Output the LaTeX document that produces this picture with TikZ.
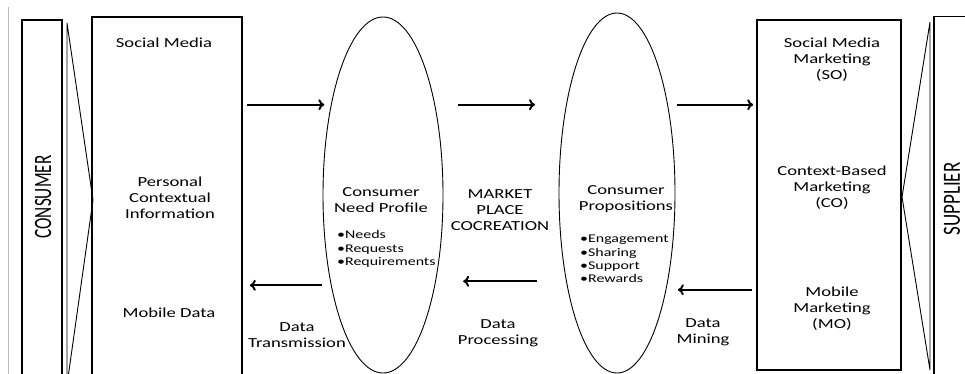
\documentclass[tikz,border=0pt]{standalone}
\usepackage{fontspec}
\setmainfont{Carlito}[FakeStretch=1.35]
\newfontfamily\sidefont{Carlito}
\usepackage{tikz}
\usetikzlibrary{arrows.meta, shapes.geometric}

\tikzset{
    box/.style={draw, rectangle, line width=1.6pt, inner sep=0pt},
    oval/.style={draw, ellipse, line width=0.9pt, inner sep=0pt},
    fan/.style={line width=0.9pt},
    lbl/.style={align=center, inner sep=0pt, font=\fontsize{13.8}{16}\selectfont},
    blist/.style={align=left, anchor=west, inner sep=0pt, font=\fontsize{11.8}{13.3}\selectfont},
    sidelbl/.style={rotate=90, inner sep=0pt},
    arr/.style={-{To[length=6pt, width=11pt]}, line width=1.9pt}
}

\begin{document}
\begin{tikzpicture}[x=1pt, y=-1pt]
        \clip (0,0) rectangle (965,373);
        \fill[white] (0,0) rectangle (965,373);

        % thin edge on the far left
        \draw[gray!55, line width=1.2pt] (8.5,7) -- (8.5,380);

        % the two sides
        \draw (42,200) node[box, minimum width=40pt, minimum height=360pt] (consumer) {};
        \draw (955,204) node[box, minimum width=42pt, minimum height=375pt] (supplier) {};
        \draw (43,197) node[sidelbl] (consumerlbl) {\sidefont\fontsize{17.2}{18}\selectfont\scalebox{1}[1.45]{CONSUMER}};
        \draw (952,199) node[sidelbl] (supplierlbl) {\sidefont\fontsize{19}{20}\selectfont\scalebox{1}[1.3]{SUPPLIER}};

        % funnels next to them
        \draw[fan] (67,23) -- (93,200) -- (67,385) -- cycle;
        \draw[fan] (930,22) -- (902,197) -- (930,370) -- cycle;

        % boxes and ovals
        \draw (167,203.5) node[box, minimum width=150pt, minimum height=373pt] (srcbox) {};
        \draw (829,195) node[box, minimum width=144pt, minimum height=350pt] (mktbox) {};
        \draw (383,195) node[oval, minimum width=120pt, minimum height=356pt] (need) {};
        \draw (617,193) node[oval, minimum width=116pt, minimum height=360pt] (props) {};

        % what the consumer gives
        \draw (164,43) node[lbl] (socmedia) {Social Media};
        \draw (170,198) node[lbl] (personal) {Personal\\Contextual\\Information};
        \draw (169,313) node[lbl] (mobiledata) {Mobile Data};

        % inside the ovals
        \draw (381,200) node[lbl] (needtitle) {Consumer\\Need Profile};
        \draw (337,249) node[blist] (needlist) {•Needs\\•Requests\\•Requirements};
        \draw (626,199) node[lbl] (proptitle) {Consumer\\Propositions};
        \draw (580,259) node[blist] (proplist) {•Engagement\\•Sharing\\•Support\\•Rewards};
        \draw (500,210) node[lbl] (market) {MARKET\\PLACE\\COCREATION};

        % what the supplier does
        \draw (832,60) node[lbl] (somkt) {Social Media\\Marketing\\(SO)};
        \draw (832,188) node[lbl] (comkt) {Context-Based\\Marketing\\(CO)};
        \draw (832,309) node[lbl] (momkt) {Mobile\\Marketing\\(MO)};

        % data steps under the arrows
        \draw (297,335) node[lbl] (transmission) {Data\\Transmission};
        \draw (498,333) node[lbl] (processing) {Data\\Processing};
        \draw (703,332) node[lbl] (mining) {Data\\Mining};

        % arrows going right
        \draw[arr, shorten <=4pt, shorten >=6.5pt] (srcbox.east |- need.120) -- (need.120);
        \draw[arr, shorten <=23pt, shorten >=31pt] (need.60) -- (props.120 |- need.60);
        \draw[arr, shorten <=9pt, shorten >=3pt] (props.60) -- (mktbox.west |- props.60);

        % arrows going left
        \draw[arr, shorten <=4pt, shorten >=11.5pt] (mktbox.west |- props.297) -- (props.297);
        \draw[arr, shorten <=29pt, shorten >=28pt] (props.240) -- (need.300 |- props.240);
        \draw[arr, shorten <=9pt, shorten >=7pt] (need.240) -- (srcbox.east |- need.240);
\end{tikzpicture}
\end{document}
